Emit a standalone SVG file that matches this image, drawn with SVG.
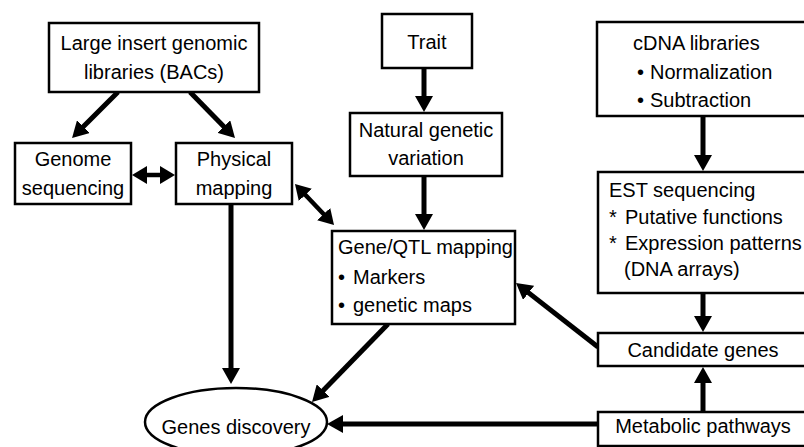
<svg xmlns="http://www.w3.org/2000/svg" width="804" height="447" viewBox="0 0 804 447">
<style>
  .box { fill: #fff; stroke: #000; stroke-width: 2.5; }
  .t { font-family: "Liberation Sans", Arial, sans-serif; font-size: 20px; fill: #000; }
  .c { text-anchor: middle; }
  .conn { stroke: #000; stroke-width: 5; fill: none; }
  .thin { stroke: #000; stroke-width: 4.5; fill: none; }
</style>
<defs>
  <marker id="ah" markerUnits="userSpaceOnUse" markerWidth="16" markerHeight="18" refX="8" refY="9" orient="auto">
    <path d="M0,0 L16,9 L0,18 z" fill="#000"/>
  </marker>
  <marker id="ah2" markerUnits="userSpaceOnUse" markerWidth="15" markerHeight="18" refX="7" refY="9" orient="auto-start-reverse">
    <path d="M0,0 L15,9 L0,18 z" fill="#000"/>
  </marker>
</defs>
<rect width="804" height="447" fill="#fff"/>
<g id="connectors">
  <line class="conn" x1="118" y1="92" x2="77.7" y2="132.3" marker-end="url(#ah)"/>
  <line class="conn" x1="190" y1="92" x2="229.4" y2="132.3" marker-end="url(#ah)"/>
  <line class="thin" x1="140" y1="175" x2="167" y2="175" marker-start="url(#ah2)" marker-end="url(#ah2)"/>
  <line class="thin" x1="300.5" y1="189.8" x2="328.5" y2="219.2" marker-start="url(#ah2)" marker-end="url(#ah2)"/>
  <line class="conn" x1="424" y1="68" x2="424" y2="104" marker-end="url(#ah)"/>
  <line class="conn" x1="424" y1="176" x2="424" y2="222" marker-end="url(#ah)"/>
  <line class="conn" x1="703" y1="116" x2="703" y2="163" marker-end="url(#ah)"/>
  <line class="conn" x1="703" y1="293" x2="703" y2="324" marker-end="url(#ah)"/>
  <line class="conn" x1="703" y1="412" x2="703" y2="375" marker-end="url(#ah)"/>
  <line class="conn" x1="598" y1="347" x2="522.3" y2="287.9" marker-end="url(#ah)"/>
  <line class="conn" x1="388" y1="324" x2="317.6" y2="396.3" marker-end="url(#ah)"/>
  <line class="conn" x1="598" y1="424" x2="335" y2="424" marker-end="url(#ah)"/>
  <line class="conn" x1="231" y1="204" x2="231" y2="376" marker-end="url(#ah)"/>
</g>
<g id="bac">
  <rect class="box" x="49" y="23" width="210" height="69"/>
  <text class="t c" x="154" y="50">Large insert genomic</text>
  <text class="t c" x="154" y="79">libraries (BACs)</text>
</g>
<g id="genome">
  <rect class="box" x="15" y="143" width="116" height="61"/>
  <text class="t c" x="73" y="166">Genome</text>
  <text class="t c" x="73" y="195">sequencing</text>
</g>
<g id="physical">
  <rect class="box" x="176" y="143" width="116" height="61"/>
  <text class="t c" x="234" y="166">Physical</text>
  <text class="t c" x="234" y="195">mapping</text>
</g>
<g id="trait">
  <rect class="box" x="382" y="14" width="90" height="54"/>
  <text class="t c" x="427" y="49">Trait</text>
</g>
<g id="natural">
  <rect class="box" x="350" y="113" width="152" height="63"/>
  <text class="t c" x="426" y="137">Natural genetic</text>
  <text class="t c" x="426" y="165">variation</text>
</g>
<g id="geneqtl">
  <rect class="box" x="332" y="231" width="183" height="93"/>
  <text class="t" x="338" y="254">Gene/QTL mapping</text>
  <text class="t" x="338" y="284">•</text>
  <text class="t" x="353" y="284">Markers</text>
  <text class="t" x="338" y="312">•</text>
  <text class="t" x="353" y="312">genetic maps</text>
</g>
<g id="cdna">
  <rect class="box" x="597" y="22" width="220" height="94"/>
  <text class="t" x="633" y="50">cDNA libraries</text>
  <text class="t" x="637" y="79">•</text>
  <text class="t" x="650" y="79">Normalization</text>
  <text class="t" x="637" y="107">•</text>
  <text class="t" x="650" y="107">Subtraction</text>
</g>
<g id="est">
  <rect class="box" x="598" y="172" width="220" height="121"/>
  <text class="t" x="609" y="197">EST sequencing</text>
  <text class="t" x="609" y="224">*</text>
  <text class="t" x="625" y="224">Putative functions</text>
  <text class="t" x="609" y="250">*</text>
  <text class="t" x="625" y="250">Expression patterns</text>
  <text class="t" x="624" y="276">(DNA arrays)</text>
</g>
<g id="candidate">
  <rect class="box" x="598" y="333" width="220" height="33"/>
  <text class="t c" x="703" y="357">Candidate genes</text>
</g>
<g id="metabolic">
  <rect class="box" x="598" y="412" width="220" height="34"/>
  <text class="t c" x="703" y="433">Metabolic pathways</text>
</g>
<g id="genes">
  <ellipse class="box" cx="236" cy="422" rx="91" ry="34"/>
  <text class="t c" x="236" y="434">Genes discovery</text>
</g>
</svg>
